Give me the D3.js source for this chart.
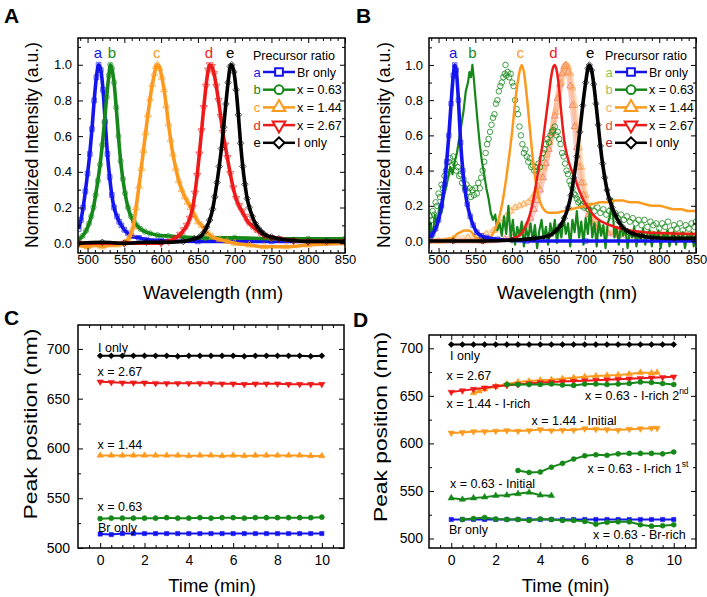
<!DOCTYPE html>
<html><head><meta charset="utf-8">
<script src="https://cdn.jsdelivr.net/npm/d3@7"></script>
<style>body{margin:0;background:#fff;} svg text{font-family:"Liberation Sans",Arial,sans-serif;}</style>
</head><body><svg id="c" width="707" height="597"></svg>
<script>
// ---------- DATA ----------
// Panel A spectra [wavelength nm, normalized intensity]
const specA_a = [[488,0.08],[491,0.13],[494,0.2],[497,0.29],[500,0.39],[503,0.5],[506,0.64],[509,0.8],[512,0.93],[515,1.0],[518,0.97],[521,0.86],[524,0.68],[527,0.5],[530,0.37],[533,0.27],[536,0.2],[540,0.15],[543,0.12],[546,0.1],[550,0.075],[555,0.055],[560,0.04],[570,0.03],[580,0.02],[600,0.015],[650,0.01],[700,0.01],[750,0.01],[800,0.01],[850,0.01]];
const specA_b = [[488,0.02],[493,0.04],[498,0.07],[502,0.11],[505,0.15],[508,0.2],[511,0.27],[514,0.35],[517,0.44],[520,0.55],[523,0.68],[526,0.82],[529,0.94],[531,1.0],[533,0.98],[536,0.9],[539,0.76],[542,0.6],[545,0.46],[548,0.36],[551,0.28],[555,0.2],[559,0.15],[563,0.12],[567,0.1],[572,0.08],[578,0.065],[585,0.055],[595,0.045],[610,0.04],[630,0.035],[660,0.03],[700,0.03],[750,0.025],[800,0.025],[850,0.025]];
const specA_c = [[488,-0.01],[500,-0.02],[510,-0.01],[520,-0.02],[530,-0.01],[540,-0.01],[550,0.0],[555,0.02],[559,0.05],[562,0.09],[566,0.2],[570,0.32],[573,0.42],[576,0.52],[579,0.62],[582,0.72],[585,0.81],[588,0.89],[591,0.95],[593,0.99],[595,1.0],[598,0.98],[601,0.93],[604,0.86],[607,0.77],[610,0.67],[613,0.58],[616,0.5],[620,0.42],[624,0.35],[628,0.3],[632,0.26],[636,0.23],[640,0.2],[645,0.16],[650,0.12],[655,0.1],[660,0.07],[665,0.05],[670,0.035],[680,0.02],[690,0.01],[700,0.0],[720,-0.01],[740,-0.02],[770,-0.02],[800,-0.01],[850,0.0]];
const specA_d = [[488,0.0],[550,0.0],[600,0.0],[610,0.01],[620,0.03],[626,0.05],[631,0.075],[635,0.1],[639,0.14],[643,0.2],[646,0.28],[649,0.38],[652,0.5],[655,0.63],[658,0.76],[661,0.88],[664,0.97],[666,1.0],[669,0.99],[672,0.95],[675,0.88],[678,0.8],[681,0.71],[684,0.62],[687,0.55],[690,0.48],[694,0.39],[698,0.31],[702,0.25],[706,0.21],[710,0.18],[714,0.15],[718,0.12],[723,0.1],[728,0.08],[734,0.06],[740,0.045],[750,0.03],[760,0.025],[780,0.015],[800,0.01],[850,0.01]];
const specA_e = [[488,0.0],[520,0.005],[550,0.0],[580,0.005],[600,0.005],[630,0.01],[645,0.025],[652,0.035],[658,0.06],[662,0.09],[666,0.13],[670,0.19],[673,0.26],[676,0.34],[679,0.43],[682,0.53],[685,0.65],[688,0.78],[691,0.9],[694,0.99],[696,1.0],[699,0.96],[702,0.86],[705,0.72],[708,0.56],[711,0.43],[714,0.33],[717,0.25],[720,0.2],[724,0.15],[728,0.11],[732,0.085],[736,0.065],[740,0.05],[750,0.035],[760,0.025],[780,0.015],[800,0.01],[825,0.01],[850,0.01]];

// Panel B spectra
const specB_blue = [[488,0.02],[492,0.04],[496,0.07],[500,0.12],[504,0.2],[508,0.32],[511,0.45],[514,0.6],[517,0.78],[520,0.94],[522,1.0],[524,0.97],[527,0.8],[530,0.56],[533,0.4],[536,0.29],[539,0.21],[543,0.14],[547,0.09],[552,0.05],[558,0.03],[565,0.02],[580,0.01],[620,0.0],[700,0.0],[850,0.0]];
const specB_greenLine = [[486,-0.04],[489,0.1],[492,0.02],[495,0.15],[498,0.08],[501,0.2],[504,0.16],[507,0.25],[510,0.3],[513,0.36],[516,0.42],[519,0.38],[522,0.45],[525,0.5],[528,0.58],[531,0.66],[534,0.74],[537,0.85],[540,0.9],[542,0.96],[544,0.93],[546,1.0],[548,0.92],[550,0.82],[553,0.68],[556,0.55],[559,0.45],[562,0.38],[565,0.3],[568,0.24],[571,0.16],[574,0.12],[577,0.15],[580,0.06],[583,0.1],[586,0.03],[589,0.14],[592,0.04],[595,0.2],[598,0.02],[601,0.12],[604,-0.02],[607,0.08],[610,0.03],[613,0.11],[616,-0.03],[619,0.07],[622,0.02],[625,0.1],[628,0.0],[631,0.09],[634,-0.04],[637,0.06],[640,0.12],[643,0.01],[646,0.08],[649,-0.02],[652,0.1],[655,0.03],[658,0.12],[661,-0.01],[664,0.09],[667,0.02],[670,0.14],[673,0.04],[676,0.1],[679,-0.03],[682,0.12],[685,0.05],[688,0.17],[691,0.02],[694,0.11],[697,-0.02],[700,0.13],[703,0.04],[706,0.19],[709,0.02],[712,0.1],[715,-0.03],[718,0.12],[721,0.03],[724,0.09],[727,-0.04],[730,0.1],[733,0.14],[736,0.24],[739,0.02],[742,0.08],[745,-0.02],[748,0.1],[751,0.03],[754,0.07],[757,-0.04],[760,0.06],[763,0.02],[766,0.08],[769,-0.03],[772,0.05],[775,0.0],[778,0.07],[781,-0.02],[784,0.04],[787,0.06],[790,-0.03],[793,0.05],[796,0.01],[799,0.06],[802,-0.04],[805,0.04],[808,0.02],[811,0.06],[814,-0.03],[817,0.03],[820,0.05],[823,-0.02],[826,0.04],[829,0.0],[832,0.05],[835,-0.04],[838,0.03],[841,0.02],[844,0.05],[847,-0.03],[850,0.03]];
const specB_greenCircles = [[486,0.10],[488,0.14],[490,0.12],[492,0.17],[494,0.15],[496,0.22],[498,0.2],[500,0.27],[502,0.25],[504,0.32],[506,0.3],[508,0.37],[510,0.4],[512,0.38],[514,0.45],[516,0.47],[518,0.43],[520,0.48],[522,0.44],[524,0.4],[526,0.42],[528,0.37],[530,0.38],[532,0.33],[534,0.35],[536,0.3],[538,0.32],[540,0.28],[542,0.3],[544,0.25],[546,0.29],[548,0.26],[550,0.3],[552,0.27],[554,0.33],[556,0.3],[558,0.36],[560,0.4],[562,0.45],[564,0.5],[566,0.55],[568,0.58],[570,0.62],[572,0.66],[574,0.7],[576,0.72],[578,0.78],[580,0.8],[582,0.85],[584,0.88],[586,0.9],[588,0.93],[590,0.95],[591,1.0],[592,0.94],[594,0.96],[596,0.93],[598,0.95],[600,0.9],[602,0.88],[604,0.8],[606,0.75],[608,0.72],[610,0.65],[612,0.6],[614,0.55],[616,0.5],[618,0.52],[620,0.48],[622,0.45],[624,0.47],[626,0.42],[628,0.43],[630,0.4],[632,0.42],[634,0.4],[636,0.44],[638,0.42],[640,0.47],[642,0.5],[644,0.52],[646,0.55],[648,0.58],[650,0.56],[652,0.6],[654,0.62],[656,0.63],[658,0.65],[660,0.6],[662,0.62],[664,0.58],[666,0.55],[668,0.5],[670,0.48],[672,0.44],[674,0.4],[676,0.38],[678,0.34],[680,0.32],[682,0.3],[684,0.27],[686,0.26],[688,0.24],[690,0.22],[692,0.23],[694,0.2],[696,0.21],[698,0.19],[700,0.2],[704,0.18],[708,0.2],[712,0.17],[716,0.19],[720,0.16],[724,0.18],[728,0.15],[732,0.17],[736,0.14],[740,0.16],[744,0.13],[748,0.15],[752,0.12],[756,0.14],[760,0.11],[764,0.13],[768,0.1],[772,0.12],[776,0.09],[780,0.12],[784,0.08],[788,0.11],[792,0.09],[796,0.1],[800,0.07],[804,0.1],[808,0.08],[812,0.11],[816,0.06],[820,0.09],[824,0.07],[828,0.1],[832,0.06],[836,0.09],[840,0.07],[844,0.1],[848,0.08],[850,0.11]];
const specB_orangeLine = [[486,0.0],[500,0.0],[510,0.01],[520,0.02],[525,0.04],[530,0.05],[535,0.06],[540,0.06],[545,0.05],[550,0.02],[560,0.01],[570,0.02],[575,0.05],[580,0.1],[585,0.18],[590,0.3],[595,0.45],[600,0.62],[605,0.82],[610,0.96],[613,1.0],[616,0.96],[620,0.82],[625,0.6],[630,0.4],[635,0.27],[640,0.2],[645,0.17],[650,0.16],[660,0.16],[670,0.17],[680,0.18],[690,0.19],[700,0.2],[710,0.21],[720,0.22],[730,0.22],[740,0.23],[750,0.23],[760,0.22],[770,0.22],[780,0.21],[790,0.2],[800,0.2],[810,0.19],[820,0.18],[830,0.18],[840,0.17],[850,0.17]];
const specB_orangeTri = [[486,0.0],[500,0.0],[520,0.01],[540,0.02],[555,0.03],[565,0.04],[575,0.06],[585,0.1],[592,0.14],[598,0.17],[604,0.19],[610,0.2],[616,0.21],[622,0.22],[627,0.24],[631,0.27],[635,0.31],[639,0.36],[643,0.42],[647,0.49],[651,0.56],[655,0.64],[659,0.73],[663,0.82],[667,0.9],[670,0.96],[673,1.0],[676,0.99],[679,0.95],[682,0.87],[685,0.77],[688,0.65],[691,0.53],[694,0.42],[697,0.33],[700,0.26],[703,0.2],[706,0.16],[710,0.12],[715,0.09],[720,0.075],[728,0.06],[740,0.05],[760,0.045],[790,0.04],[820,0.04],[850,0.035]];
const specB_redTri = [[486,0.0],[560,0.0],[590,0.01],[600,0.02],[608,0.04],[614,0.06],[620,0.09],[625,0.13],[630,0.18],[634,0.23],[638,0.29],[642,0.36],[646,0.44],[650,0.52],[654,0.61],[658,0.71],[662,0.81],[665,0.89],[668,0.95],[671,0.99],[673,1.0],[676,0.96],[679,0.88],[682,0.77],[685,0.65],[688,0.53],[691,0.42],[694,0.33],[697,0.26],[700,0.2],[704,0.15],[708,0.11],[713,0.08],[720,0.06],[730,0.045],[745,0.035],[770,0.03],[800,0.025],[850,0.02]];
const specB_redLine = [[486,0.0],[580,0.0],[595,0.01],[605,0.02],[612,0.04],[618,0.08],[622,0.12],[626,0.18],[630,0.26],[634,0.36],[638,0.46],[642,0.57],[646,0.7],[650,0.83],[653,0.93],[656,0.99],[658,1.0],[661,0.96],[664,0.86],[667,0.72],[670,0.6],[673,0.52],[677,0.45],[681,0.4],[686,0.35],[690,0.3],[695,0.25],[700,0.21],[705,0.18],[710,0.15],[718,0.12],[727,0.1],[740,0.08],[760,0.06],[780,0.05],[800,0.045],[850,0.04]];
const specB_black = [[486,0.0],[520,0.0],[560,0.0],[600,0.005],[630,0.015],[650,0.03],[660,0.06],[666,0.09],[671,0.13],[676,0.19],[680,0.26],[684,0.36],[688,0.48],[692,0.62],[696,0.77],[700,0.9],[703,0.98],[705,1.0],[708,0.97],[711,0.89],[714,0.78],[717,0.66],[720,0.54],[723,0.44],[726,0.36],[729,0.29],[732,0.24],[736,0.19],[740,0.15],[745,0.11],[750,0.08],[757,0.055],[765,0.04],[775,0.03],[790,0.02],[820,0.015],[850,0.015]];

// Peak label positions (nm)
const peakLabels = ["a","b","c","d","e"];
const peaksA = [514, 533, 594, 665, 694];
const peaksB = [520, 546, 611, 656, 706];
const legendNames = ["Br only","x = 0.63","x = 1.44","x = 2.67","I only"];

// Axis tick labels
const ticksWl = [500,550,600,650,700,750,800,850];
const ticksInt = [0.0,0.2,0.4,0.6,0.8,1.0];
const ticksTime = [0,2,4,6,8,10];
const ticksPeak = [500,550,600,650,700];

// Panel C: peak position vs time
const timeC = [0,0.5,1,1.5,2,2.5,3,3.5,4,4.5,5,5.5,6,6.5,7,7.5,8,8.5,9,9.5,10];
const cIonly = [693,693,693,693,693,693,693,692.5,693,693,693,693,693,692.5,693,693,693,693,693,692.5,693];
const cX267 = [667,666.5,666,666,666,665.5,665.5,665.5,665.5,665.5,665.5,665,665,664.5,665,665,665,664.5,664.5,664.5,664.5];
const cX144 = [593,593,593,593,593,593,593,593,592.5,593,593,592.5,593,592.5,593,593,593,593,593,592.5,592.5];
const cX063 = [529.5,530,530,530,530,530,530.5,530,530,530.5,530,530.5,530.5,530,530.5,530.5,530.5,530.5,530.5,530.5,531];
const cBr = [514,513.5,514.5,514.5,514.5,514.5,514.5,514.5,514.5,514.5,514.5,514.5,514.5,514.5,514.5,514.5,514.5,514.5,514.5,514.5,514.5];

// Panel D
const timeD = [0,0.5,1,1.5,2,2.5,3,3.5,4,4.5,5,5.5,6,6.5,7,7.5,8,8.5,9,9.5,10];
const dIonly = [704,704,704,704,704,704,704,704,704,704,704,704,704,704,704,704,704,704,704,704,704];
const dX267 = [654,655.5,657,658.5,660,661,662,663,664,664.5,665,665.5,666,666.5,667,667.5,668,668.5,669,669.5,670];
const timeD144rich = [1,1.25,1.5,2,2.5,3,3.5,4,4.5,5,5.5,6,6.5,7,7.5,8,8.5,9,9.25];
const dX144rich = [653,655,657,660,662.5,664.5,665.5,666.5,667,668,669,670,671,671.5,672,673,674.5,674,674.5];
const timeD063rich2 = [2.5,3,3.5,4,4.5,5,5.5,6,6.5,7,7.5,8,8.5,9,9.5,10];
const dX063rich2 = [662,662,662,662,662.5,661.5,661,662.5,662.5,662,662.5,663,664.5,664,663,662];
const timeD144init = [0,0.5,1,1.5,2,2.5,3,3.5,4,4.5,5,5.5,6,6.5,7,7.5,8,8.5,9,9.25];
const dX144init = [611,611.5,612.5,612.5,613,613.5,613,613.5,614.5,613.5,614,614,615.5,615,614.5,614,615,615.5,616,616];
const timeD063rich1 = [3,3.5,4,4.5,5,5.5,6,6.5,7,7.5,8,8.5,9,9.5,10];
const dX063rich1 = [571.5,569.5,570,575,579,583.5,587,588,587.5,589,589.5,589.5,589.5,589,591];
const timeD063init = [0,0.5,1,1.5,2,2.5,3,3.5,4,4.5];
const dX063init = [542.5,541,542.5,543.5,545,545.5,547,548.5,545.5,545];
const dBr = [520,520,520,520,520,520,520,520,520,520,520,520,520,520,520,520,520,520,520,520,520];
const timeD063br = [0.5,1,1.5,2,2.5,3,3.5,4,4.5,5,5.5,6,6.5,7,7.5,8,8.5,9,9.5,10];
const dX063br = [520,521,522,520.5,520,520,519,520.5,520,519,519,518,515,517,517.5,517.5,514.5,513,513.5,514.5];

// ---------- STYLE ----------
const COL = {blue:"#1414ee", green:"#16881a", orange:"#fb9a1e", red:"#ee1a1a", black:"#000000"};
const legendColsA = [COL.blue, COL.green, COL.orange, COL.red, COL.black];
const legendLetterColsB = ["#8cc850","#b4b85a","#f6ad6c","#de5040","#a0202c"];
const legendMarkers = ["square","circle","tri","tridown","diamond"];

const svg = d3.select("#c");

function symType(t){ return {square:d3.symbolSquare, circle:d3.symbolCircle, tri:d3.symbolTriangle, tridown:d3.symbolTriangle, diamond:d3.symbolSquare}[t]; }
function symRot(t){ return t==="tridown"?180:(t==="diamond"?45:0); }
function drawMarkers(g, pts, t, size, stroke, fill, sw, op){
  const p = d3.symbol(symType(t), size)();
  g.append("g").selectAll("path").data(pts).join("path").attr("d", p)
    .attr("transform", d => `translate(${d[0]},${d[1]}) rotate(${symRot(t)})`)
    .attr("fill", fill).attr("stroke", stroke).attr("stroke-width", sw).attr("opacity", op);
}

function makePanel(left, top, right, bottom, xDom, yDom){
  const g = svg.append("g").attr("transform", `translate(${left},${top})`);
  const w = right-left, h = bottom-top;
  const x = d3.scaleLinear().domain(xDom).range([0,w]);
  const y = d3.scaleLinear().domain(yDom).range([h,0]);
  const id = "clip"+left+"_"+top;
  g.append("clipPath").attr("id", id).append("rect").attr("width", w).attr("height", h);
  const plot = g.append("g").attr("clip-path", `url(#${id})`);
  return {g, plot, x, y, w, h, left, top};
}

function drawAxes(P, o){
  const {g, x, y, w, h} = P;
  const inX = v => v > x.domain()[0] && v < x.domain()[1];
  const inY = v => v > y.domain()[0] && v < y.domain()[1];
  const xMinor = o.xMinor.filter(inX), yMinor = o.yMinor.filter(inY);
  const ax = (gen, tr) => { const a = g.append("g").attr("transform", tr).call(gen); a.select(".domain").remove(); return a; };
  ax(d3.axisBottom(x).tickValues(o.xMajor).tickSize(-5).tickPadding(o.xPad).tickFormat(o.xFmt), `translate(0,${h})`);
  ax(d3.axisBottom(x).tickValues(xMinor).tickSize(-3).tickFormat(""), `translate(0,${h})`);
  ax(d3.axisTop(x).tickValues(o.xMajor).tickSize(-5).tickFormat(""), `translate(0,0)`);
  ax(d3.axisTop(x).tickValues(xMinor).tickSize(-3).tickFormat(""), `translate(0,0)`);
  ax(d3.axisLeft(y).tickValues(o.yMajor).tickSize(-5).tickPadding(o.yPad).tickFormat(o.yFmt), `translate(0,0)`);
  ax(d3.axisLeft(y).tickValues(yMinor).tickSize(-3).tickFormat(""), `translate(0,0)`);
  ax(d3.axisRight(y).tickValues(o.yMajor).tickSize(-5).tickFormat(""), `translate(${w},0)`);
  ax(d3.axisRight(y).tickValues(yMinor).tickSize(-3).tickFormat(""), `translate(${w},0)`);
  g.selectAll(".tick line").attr("stroke", "#000").attr("stroke-width", 1);
  g.selectAll(".tick text").attr("font-family", '"Liberation Sans", Arial, sans-serif').attr("font-size", o.fs).attr("fill", "#000");
  g.append("rect").attr("width", w).attr("height", h).attr("fill", "none").attr("stroke", "#000").attr("stroke-width", 1.5);
}

function title(txt, cx, cy, fs, rot, len){
  const t = svg.append("text").attr("transform", `translate(${cx},${cy}) rotate(${rot||0})`)
    .attr("text-anchor", "middle").attr("dominant-baseline", "central").attr("font-size", fs).attr("fill", "#000").text(txt);
  if (len) t.attr("textLength", len).attr("lengthAdjust", "spacingAndGlyphs");
  return t;
}

function spectrum(P, data, o){
  const line = d3.line().x(d => P.x(d[0])).y(d => P.y(d[1])).curve(o.curve || d3.curveMonotoneX);
  if (o.lw) P.plot.append("path").datum(data).attr("d", line).attr("fill", "none")
      .attr("stroke", o.color).attr("stroke-width", o.lw).attr("stroke-linejoin", "round").attr("opacity", o.lop || 1);
  if (o.marker) drawMarkers(P.plot, data.map(d => [P.x(d[0]), P.y(d[1])]), o.marker, o.ms, o.mcolor || o.color, "none", o.msw || 1, o.mop || 1);
}

function series(P, xs, ys, color, marker){
  const pts = xs.map((t,i) => [P.x(t), P.y(ys[i])]);
  P.plot.append("path").datum(pts).attr("d", d3.line()).attr("fill", "none").attr("stroke", color).attr("stroke-width", 2);
  drawMarkers(P.plot, pts, marker, marker === "circle" ? 20 : 18, color, color, 0.5, 1);
}

const minorWl = d3.range(490, 851, 10).filter(v => v % 50 !== 0);
const minorInt = [0.1,0.3,0.5,0.7,0.9,1.1];
const minorTime = d3.range(-0.5, 10.6, 0.5).filter(v => v % 2 !== 0);
const minorPeak = [525,575,625,675,725];

// ---------- PANEL A ----------
const A = makePanel(78, 38, 345, 253, [487, 850], [-0.055, 1.15]);
const specsA = [specA_a, specA_b, specA_c, specA_d, specA_e];
specsA.forEach((s,i) => spectrum(A, s, {color: legendColsA[i], lw: 3.6, marker: legendMarkers[i], ms: 22, msw: 0.9, mop: 0.7}));
drawAxes(A, {xMajor: ticksWl, xMinor: minorWl, yMajor: ticksInt, yMinor: minorInt, xFmt: d3.format("d"), yFmt: d3.format(".1f"), fs: 13, xPad: 2, yPad: 6});

// ---------- PANEL B ----------
const B = makePanel(429, 38, 696, 253, [487, 850], [-0.068, 1.153]);
spectrum(B, specB_redTri, {color: "#f06050", lw: 6, lop: 0.3, marker: "tri", ms: 20, msw: 0.9, mop: 0.8});
spectrum(B, specB_orangeTri, {color: "#fba040", lw: 6, lop: 0.3, marker: "tri", ms: 20, msw: 0.9, mop: 0.8});
spectrum(B, specB_greenCircles, {color: COL.green, lw: 0, marker: "circle", ms: 24, msw: 0.9, mop: 0.9});
spectrum(B, specB_greenLine, {color: COL.green, lw: 2.2, curve: d3.curveLinear});
spectrum(B, specB_orangeLine, {color: COL.orange, lw: 2.5});
spectrum(B, specB_redLine, {color: COL.red, lw: 2.5});
spectrum(B, specB_blue, {color: COL.blue, lw: 3.6, marker: "square", ms: 20, msw: 0.9, mop: 0.7});
spectrum(B, specB_black, {color: COL.black, lw: 3.6, marker: "diamond", ms: 20, msw: 0.9, mop: 0.7});
drawAxes(B, {xMajor: ticksWl, xMinor: minorWl, yMajor: ticksInt, yMinor: minorInt, xFmt: d3.format("d"), yFmt: d3.format(".1f"), fs: 13, xPad: 2, yPad: 6});

// peak letters
function peakLetters(P, peaks){
  peakLabels.forEach((l,i) => {
    P.g.append("text").attr("x", P.x(peaks[i])).attr("y", P.y(1.0) - 7).attr("text-anchor", "middle")
      .attr("font-size", 15).attr("fill", legendColsA[i]).text(l);
  });
}
peakLetters(A, peaksA);
peakLetters(B, peaksB);

// legends
function legend(x0, letterCols){
  svg.append("text").attr("x", x0 - 2).attr("y", 59.5).attr("font-size", 12.5).attr("fill", "#000").text("Precursor ratio");
  const rows = [72, 89.7, 107.4, 125.1, 142.8];
  rows.forEach((yy,i) => {
    svg.append("text").attr("x", x0 + 2).attr("y", yy + 4.6).attr("text-anchor", "middle").attr("font-size", 13).attr("fill", letterCols[i]).text(peakLabels[i]);
    svg.append("line").attr("x1", x0 + 8).attr("x2", x0 + 40).attr("y1", yy).attr("y2", yy).attr("stroke", legendColsA[i]).attr("stroke-width", 2.5);
    drawMarkers(svg, [[x0 + 24, yy]], legendMarkers[i], legendMarkers[i].startsWith("tri") ? 70 : 60, legendColsA[i], "#fff", 2, 1);
    svg.append("text").attr("x", x0 + 42).attr("y", yy + 4.5).attr("font-size", 12.5).attr("fill", "#000").text(legendNames[i]);
  });
}
legend(255, legendColsA);
legend(607, legendLetterColsB);

// ---------- PANEL C ----------
const C = makePanel(78, 325, 344, 548, [-1, 11], [500, 724]);
series(C, timeC, cIonly, COL.black, "diamond");
series(C, timeC, cX267, COL.red, "tridown");
series(C, timeC, cX144, COL.orange, "tri");
series(C, timeC, cX063, COL.green, "circle");
series(C, timeC, cBr, COL.blue, "square");
drawAxes(C, {xMajor: ticksTime, xMinor: minorTime, yMajor: ticksPeak, yMinor: minorPeak, xFmt: d3.format("d"), yFmt: d3.format("d"), fs: 14, xPad: 7, yPad: 8});
const labC = [["I only",98,351.5],["x = 2.67",97.5,375.5],["x = 1.44",97.5,449],["x = 0.63",97.5,510.5],["Br only",98,531.5]];
labC.forEach(l => svg.append("text").attr("x", l[1]).attr("y", l[2]).attr("font-size", 12.5).attr("fill", "#000").text(l[0]));

// ---------- PANEL D ----------
const D = makePanel(429, 335, 696, 548, [-1, 11], [490, 714]);
series(D, timeD, dIonly, COL.black, "diamond");
series(D, timeD144init, dX144init, COL.orange, "tridown");
series(D, timeD063rich1, dX063rich1, COL.green, "circle");
series(D, timeD063init, dX063init, COL.green, "tri");
series(D, timeD, dBr, COL.blue, "square");
series(D, timeD063br, dX063br, COL.green, "circle");
series(D, timeD144rich, dX144rich, COL.orange, "tri");
series(D, timeD, dX267, COL.red, "tridown");
series(D, timeD063rich2, dX063rich2, COL.green, "circle");
drawAxes(D, {xMajor: ticksTime, xMinor: minorTime, yMajor: ticksPeak, yMinor: minorPeak, xFmt: d3.format("d"), yFmt: d3.format("d"), fs: 14, xPad: 7, yPad: 6});
const labD = [["I only",450,359.5],["x = 2.67",446.5,380],["x = 1.44 - I-rich",446.5,408],["x = 1.44 - Initial",531.5,425],["x = 0.63 - Initial",450,488],["Br only",449,533.5],["x = 0.63 - Br-rich",593,539]];
labD.forEach(l => svg.append("text").attr("x", l[1]).attr("y", l[2]).attr("font-size", 12.5).attr("fill", "#000").text(l[0]));
const supD = [["x = 0.63 - I-rich 2",585,399.5,"nd"],["x = 0.63 - I-rich 1",587.5,472.5,"st"]];
supD.forEach(l => {
  const t = svg.append("text").attr("x", l[1]).attr("y", l[2]).attr("font-size", 12.5).attr("fill", "#000");
  t.append("tspan").text(l[0]);
  t.append("tspan").attr("dy", -6).attr("font-size", 8.5).text(l[3]);
});

// ---------- TITLES ----------
title("Wavelength (nm)", 213, 292, 18.5);
title("Wavelength (nm)", 567, 292, 18.5);
title("Normalized Intensity (a.u.)", 31.5, 145, 18, -90, 206);
title("Normalized Intensity (a.u.)", 384, 145, 18, -90, 206);
title("Time (min)", 212, 585, 18.5);
title("Time (min)", 565.5, 585, 18.5);
title("Peak position (nm)", 30, 424, 19, -90, 191);
title("Peak position (nm)", 380, 427, 19, -90, 190);

// panel letters
[["A",4,23],["B",356,23],["C",4,325],["D",353,327]].forEach(p =>
  svg.append("text").attr("x", p[1]).attr("y", p[2]).attr("font-size", 21).attr("font-weight", "bold").attr("fill", "#000").text(p[0]));
</script></body></html>
